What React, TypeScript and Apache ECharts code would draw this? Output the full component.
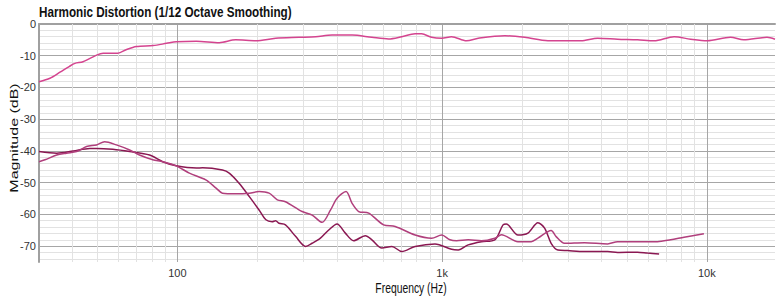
import React, { useEffect, useRef } from "react";
import * as echarts from "echarts";

const TITLE = "Harmonic Distortion (1/12 Octave Smoothing)";
const X_NAME = "Frequency (Hz)";
const Y_NAME = "Magnitude (dB)";

// [frequency Hz, magnitude dB]
const fundamental: [number, number][] = [
  [30, -18.2], [33, -17.1], [36, -15.2], [39, -13.4], [41, -12.4], [44, -11.9], [49.5, -9.8],
  [52.4, -9.2], [59.6, -9.2], [64, -8.1], [70, -7.1], [81, -6.8], [91, -6.1], [99, -5.6],
  [118, -5.4], [144, -5.9], [166, -5.0], [198, -5.3], [235, -4.5], [288, -4.2], [333, -4.0],
  [384, -3.5], [457, -3.5], [543, -4.2], [628, -4.7], [704, -4.0], [791, -3.1], [837, -3.1],
  [913, -4.2], [996, -4.5], [1086, -4.0], [1237, -5.3], [1369, -4.5], [1725, -3.7], [2051, -4.2],
  [2510, -5.3], [3071, -5.3], [3349, -5.3], [3869, -4.5], [4602, -4.8], [5472, -5.0], [6324, -5.3],
  [7520, -4.0], [8683, -4.8], [10037, -5.3], [12283, -4.2], [13792, -5.0], [16879, -4.2],
  [18100, -4.8],
];

const harmonic2: [number, number][] = [
  [30, -40.2], [35, -40.7], [40.4, -40.0], [46.7, -39.2], [49.5, -39.2], [57, -39.5], [66, -40.2],
  [78.5, -41.3], [88, -43.4], [99, -44.7], [118, -45.4], [124.5, -45.3], [148, -46.0], [157, -47.0],
  [171, -50.2], [187, -54.4], [203.5, -58.6], [216, -61.7], [228, -62.3], [235, -62.0], [242, -62.8],
  [256, -63.3], [280, -67.0], [305, -70.1], [323, -69.1], [347, -67.5], [373, -64.9], [401, -63.0],
  [431, -65.9], [463, -68.3], [513, -66.7], [543, -68.0], [592, -70.6], [646, -70.1], [704, -71.7],
  [791, -70.1], [940, -69.3], [1086, -71.0], [1151, -71.2], [1255, -69.6], [1408, -68.6],
  [1582, -68.0], [1699, -63.3], [1748, -63.0], [1935, -66.5], [2110, -65.9], [2301, -62.6],
  [2439, -64.3], [2582, -69.1], [2737, -71.2], [2984, -71.4], [3449, -71.7], [4220, -71.7],
  [4602, -72.0], [5472, -71.9], [5968, -72.2], [6605, -72.5],
];

const harmonic3: [number, number][] = [
  [30, -43.4], [31.6, -42.8], [35, -41.3], [38.1, -40.7], [41.6, -40.2], [45.4, -38.6], [49.5, -38.1],
  [53.1, -37.1], [58.8, -38.1], [66, -39.7], [71.9, -41.3], [80.7, -42.8], [88, -43.4], [99, -44.7],
  [111, -47.0], [128, -49.1], [140, -51.7], [148, -53.3], [166, -53.5], [187, -53.3], [203.5, -52.8],
  [222, -53.3], [238.5, -55.4], [256, -56.0], [296, -59.1], [323, -60.2], [352, -62.5], [379, -58.6],
  [401, -54.9], [433.5, -52.8], [457, -56.5], [484, -59.1], [528, -59.6], [601, -63.3], [665, -63.8],
  [791, -66.5], [913, -67.5], [996, -66.5], [1071, -68.0], [1134, -68.3], [1255, -68.0], [1408, -68.3],
  [1582, -67.5], [1675, -66.4], [1935, -68.6], [2172, -68.6], [2301, -67.5], [2582, -65.1],
  [2697, -67.0], [2900, -69.1], [3449, -68.9], [4220, -69.3], [4602, -68.6], [5472, -68.6],
  [6508, -68.6], [7303, -68.0], [8203, -67.2], [9752, -66.1],
];

const minorFreqs = [
  40, 50, 60, 70, 80, 90, 200, 300, 400, 500, 600, 700, 800, 900,
  2000, 3000, 4000, 5000, 6000, 7000, 8000, 9000,
];

const xTickLabels: Record<number, string> = { 100: "100", 1000: "1k", 10000: "10k" };

const X_MIN = 30;
const X_MAX = 18100;
const Y_MIN = -75;
const Y_MAX = 0;

const LABEL_FONT = "'Liberation Sans', Arial, sans-serif";

export default function App() {
  const ref = useRef<HTMLDivElement>(null);
  useEffect(() => {
    if (!ref.current) return;
    const chart = echarts.init(ref.current, null, { renderer: "svg" });
    // y split-line colours cycle over ticks starting at -75 (step 1)
    const T = "rgba(0,0,0,0)";
    const minor = "#e2e2e2";
    const major = "#a6a6a6";
    const yLineColors = [T, minor, T, minor, T, major, T, minor, T, minor];
    chart.setOption({
      animation: false,
      backgroundColor: "#ffffff",
      grid: { left: 39, right: 0, top: 24, bottom: 35, containLabel: false },
      xAxis: {
        type: "log",
        logBase: 10,
        min: X_MIN,
        max: X_MAX,
        axisLine: { show: true, lineStyle: { color: "#a0a0a0", width: 2 } },
        axisTick: { show: false },
        splitLine: { show: true, showMaxLine: false, lineStyle: { color: major, width: 1 } },
        axisLabel: {
          margin: 5,
          color: "#333",
          fontSize: 11,
          fontFamily: LABEL_FONT,
          formatter: (v: number) => xTickLabels[Math.round(v)] ?? "",
        },
      },
      yAxis: {
        type: "value",
        min: Y_MIN,
        max: Y_MAX,
        interval: 1,
        axisLine: { show: true, lineStyle: { color: "#a0a0a0", width: 2 } },
        axisTick: { show: false },
        splitLine: { show: true, lineStyle: { color: yLineColors, width: 1 } },
        axisLabel: {
          margin: 3,
          color: "#333",
          fontSize: 11,
          fontFamily: LABEL_FONT,
          formatter: (v: number) => (Math.round(v) % 10 === 0 ? String(Math.round(v)) : ""),
        },
      },
      graphic: [
        {
          type: "text",
          x: 39,
          y: 12,
          scaleX: 0.78,
          style: {
            text: TITLE,
            x: 0,
            y: 0,
            font: "bold 15px 'Liberation Sans', Arial, sans-serif",
            fill: "#111",
            align: "left",
            verticalAlign: "middle",
            textAlign: "left",
            textVerticalAlign: "middle",
          },
        },
        {
          type: "text",
          x: 411,
          y: 288,
          scaleX: 0.74,
          style: {
            text: X_NAME,
            x: 0,
            y: 0,
            font: "14px 'Liberation Sans', Arial, sans-serif",
            fill: "#111",
            align: "center",
            verticalAlign: "middle",
            textAlign: "center",
            textVerticalAlign: "middle",
          },
        },
        {
          type: "text",
          x: 13.5,
          y: 138,
          rotation: Math.PI / 2,
          scaleY: 0.72,
          style: {
            text: Y_NAME,
            x: 0,
            y: 0,
            font: "16px 'Liberation Sans', Arial, sans-serif",
            fill: "#111",
            align: "center",
            verticalAlign: "middle",
            textAlign: "center",
            textVerticalAlign: "middle",
          },
        },
      ],
      series: [
        {
          name: "grid",
          type: "line",
          data: fundamental,
          showSymbol: false,
          silent: true,
          lineStyle: { opacity: 0 },
          z: 1,
          markLine: {
            silent: true,
            z: 1,
            symbol: "none",
            label: { show: false },
            lineStyle: { color: minor, width: 1, type: "solid" },
            data: minorFreqs.map((f) => ({ xAxis: f })),
          },
        },
        {
          name: "Fundamental",
          type: "line",
          data: fundamental,
          showSymbol: false,
          smooth: 0.3,
          z: 3,
          lineStyle: { color: "#d4448f", width: 1.5 },
        },
        {
          name: "2nd Harmonic",
          type: "line",
          data: harmonic2,
          showSymbol: false,
          smooth: 0.3,
          z: 3,
          lineStyle: { color: "#8a1852", width: 1.5 },
        },
        {
          name: "3rd Harmonic",
          type: "line",
          data: harmonic3,
          showSymbol: false,
          smooth: 0.3,
          z: 3,
          lineStyle: { color: "#b03f7c", width: 1.5 },
        },
      ],
    });
    return () => chart.dispose();
  }, []);
  return (
    <div
      ref={ref}
      style={{ position: "absolute", left: 0, top: 0, width: 778, height: 297, background: "#fff" }}
    />
  );
}
